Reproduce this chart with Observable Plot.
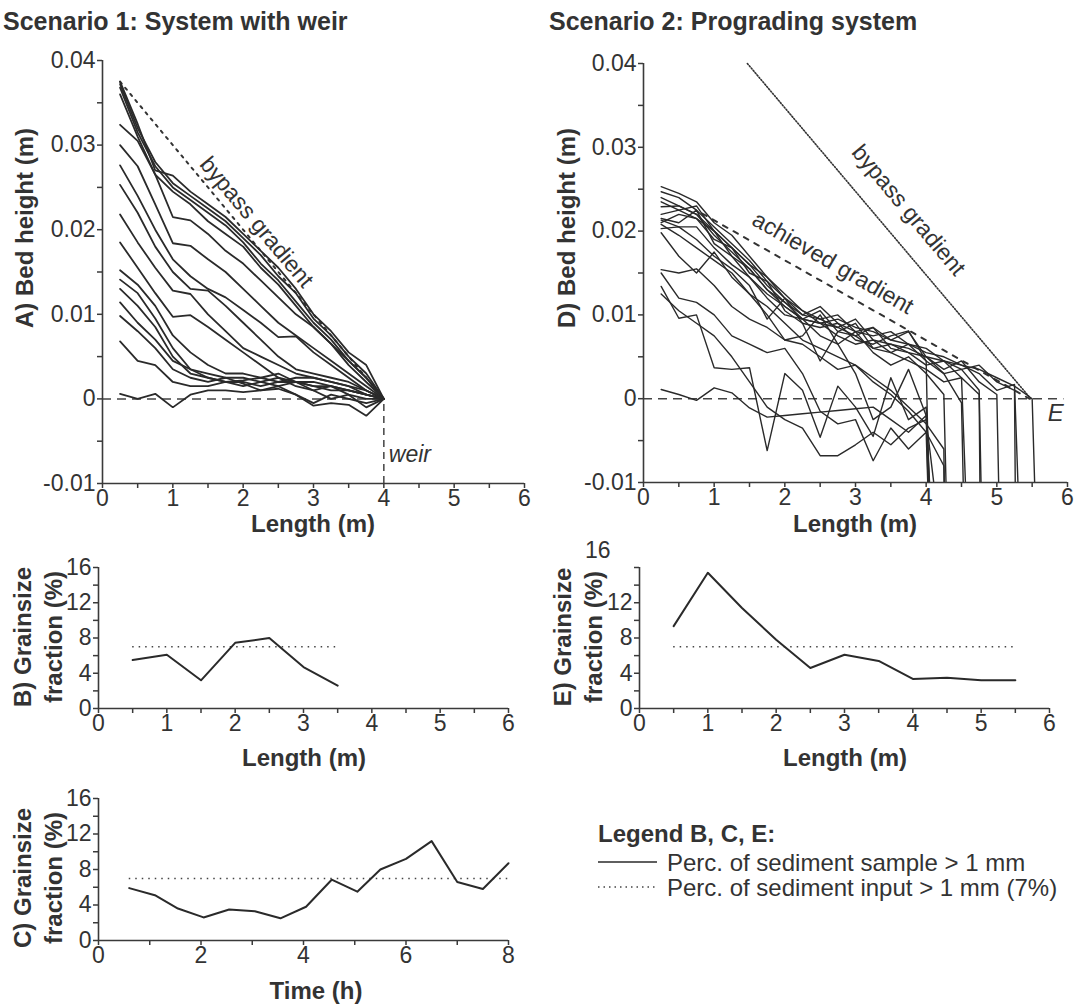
<!DOCTYPE html>
<html><head><meta charset="utf-8">
<script src="https://cdn.jsdelivr.net/npm/d3@7"></script>
<script src="https://cdn.jsdelivr.net/npm/@observablehq/plot@0.6"></script>
<style>
html,body{margin:0;padding:0;background:#fff;}
#root{position:relative;width:1080px;height:1006px;overflow:hidden;font-family:"Liberation Sans",Arial,sans-serif;color:#333;background:#fff;}
.lbl{position:absolute;white-space:nowrap;font-weight:bold;font-size:24px;line-height:1;}
.rot{transform:translate(-50%,-50%) rotate(-90deg);text-align:center;}
.two{line-height:31px;}
.hc{transform:translate(-50%,-50%);}
.vc{transform:translate(0,-50%);}
.reg{font-weight:normal;line-height:20px;}
</style></head><body><div id="root"></div>
<script>
// ---------------- DATA ----------------
// Panel A: bed profiles, scenario 1 (values in mm, positions in m)
const lengthsA = [0.25,0.5,0.75,1,1.25,1.5,1.75,2,2.25,2.5,2.75,3,3.25,3.5,3.75,4];
const profilesA = [
  [37.5,32.5,27.0,26.4,24.5,23.0,21.5,19.5,17.5,15.5,13.0,10.0,8.0,5.5,4.0,0],
  [37.2,32.0,28.0,25.5,24.0,22.5,21.0,19.0,17.0,14.5,12.5,9.5,7.5,5.0,3.0,0],
  [36.8,31.5,27.5,25.0,23.5,22.0,20.5,18.5,16.0,14.0,11.5,9.0,7.0,4.5,2.5,0],
  [36.0,31.0,26.5,24.5,23.0,21.0,19.5,18.0,15.5,13.5,11.0,8.5,6.5,4.0,2.0,0],
  [32.4,30.5,26.5,21.5,21.1,19.5,17.5,16.0,14.0,12.0,10.0,8.5,6.5,4.5,2.5,0],
  [30.0,27.5,23.0,18.4,18.1,16.5,15.0,13.0,11.0,9.0,7.5,6.0,4.5,3.0,1.5,0],
  [27.6,24.0,20.0,16.5,14.5,13.0,12.0,10.5,9.0,7.3,7.4,5.5,4.0,2.5,1.0,0],
  [25.3,22.0,18.0,15.0,13.0,12.8,11.0,9.0,7.0,5.0,3.5,3.0,2.5,2.0,1.0,0],
  [21.8,18.5,15.5,12.8,12.4,10.0,8.0,6.0,5.0,4.0,3.0,2.5,2.0,1.5,0.5,0],
  [18.5,15.5,12.5,9.7,9.9,8.5,7.0,5.5,4.0,2.5,2.0,1.5,1.5,1.0,0.5,0],
  [15.2,13.5,11.0,7.5,5.5,4.0,3.0,3.0,2.5,2.0,2.5,2.5,2.0,1.5,1.0,0],
  [14.1,12.5,9.5,6.0,3.5,3.0,2.5,2.5,2.0,1.5,2.0,2.0,1.5,1.0,0.5,0],
  [13.0,11.0,8.5,5.0,3.0,2.5,2.0,1.5,2.0,2.5,1.5,1.0,1.5,0.5,0.0,0],
  [11.4,9.0,7.0,4.5,3.5,2.5,2.0,2.0,1.5,2.0,2.0,1.5,1.0,1.0,0.5,0],
  [9.8,8.0,6.0,3.5,2.5,2.0,2.5,1.8,1.0,1.5,0.5,-0.5,0.5,0.0,-0.5,0],
  [6.8,4.5,4.0,2.0,1.5,1.5,2.0,2.2,2.5,3.0,2.0,1.0,0.0,0.5,-1.0,0],
  [0.6,0.0,0.6,-1.0,0.5,1.0,1.0,0.8,1.0,1.2,0.5,-0.8,-0.5,-0.7,-2.0,0]
];
const bypassA = [[0.25, 37.5], [4, 0]];   // [length m, height mm]
const weirLength = 4;

// Panel D: bed profiles, scenario 2 (mm)
const lengthsD = [0.25,0.5,0.75,1,1.25,1.5,1.75,2,2.25,2.5,2.75,3,3.25,3.5,3.75,4,4.25,4.5,4.75,5,5.25,5.5];
const profilesD = [
  [25.3,24.5,23.5,21.0,19.5,17.0,14.5,12.5,10.5,9.0,9.5,8.5,8.0,7.0,6.5,5.5,5.0,4.0,3.5,2.5,1.5,0.0],
  [24.7,24.0,22.5,20.5,18.5,16.5,14.0,12.0,10.0,11.0,9.0,8.0,8.5,7.0,8.0,5.0,4.5,4.0,3.0,1.0,1.7],
  [24.0,23.0,22.0,20.0,18.0,16.0,14.5,12.0,10.5,9.5,10.0,8.0,7.5,8.0,6.5,6.0,4.5,3.5,4.0,2.0,1.0],
  [23.5,22.5,23.0,20.0,18.0,16.0,13.5,11.5,9.5,9.0,8.5,9.5,7.0,6.5,6.0,5.0,3.5,4.5,2.0,0.5],
  [22.9,23.0,22.0,19.5,17.5,15.5,13.0,11.0,9.5,10.5,8.0,7.5,8.5,6.0,5.5,5.0,3.0,3.5,1.0],
  [21.0,22.0,21.5,20.0,17.0,15.5,13.0,11.5,10.0,9.5,8.5,7.5,6.0,6.5,5.5,4.0,4.5,2.5,0.5],
  [22.0,22.5,21.5,19.0,18.0,15.0,14.0,10.5,9.0,8.5,9.0,7.0,6.5,7.5,8.1,4.5,3.0,-0.5],
  [21.5,21.0,22.5,18.5,17.0,14.5,12.5,11.0,9.5,9.0,7.5,6.5,7.0,5.5,4.5,3.5,2.0,2.5],
  [21.3,20.5,20.5,18.0,16.0,14.5,12.0,10.0,9.5,7.5,6.5,8.0,5.5,4.0,5.0,3.0,0.5],
  [20.8,19.5,18.0,16.5,15.0,12.5,11.0,9.0,7.0,6.0,5.0,4.0,2.5,1.0,-1.0,-3.0,-6.0],
  [20.3,20.5,19.0,17.0,15.5,13.5,9.5,12.0,9.0,4.5,8.0,9.0,6.0,5.5,6.5,4.5],
  [19.8,17.0,15.0,17.5,14.5,12.5,10.0,7.0,7.5,10.0,6.5,3.0,-2.5,-1.0,3.5,-2.0],
  [15.4,15.0,15.5,13.5,11.0,9.5,8.5,7.0,6.5,5.0,3.5,4.0,2.0,0.5,-1.5,-4.0,-8.0],
  [15.0,12.0,11.5,10.0,7.5,6.5,5.5,6.0,3.0,-1.5,-3.0,-2.5,-7.4,-3.5,-6.0,-4.0],
  [13.4,9.6,10.0,3.7,3.5,3.7,-6.2,3.0,1.0,-4.6,1.5,-1.0,-4.5,2.5,-2.5,-1.0],
  [12.5,10.5,9.0,7.5,5.0,2.0,-1.0,-2.5,-3.5,-6.8,-6.8,-5.5,-4.0,-5.5,-3.5,-2.5],
  [1.1,0.5,-0.2,1.3,0.7,-1.1,-2.2,-2.0,-1.8,-1.6,-1.4,-1.2,-1.0,-2.5,-4.0,-2.0]
];
const frontD = [5.57,5.34,5.27,5.05,4.8,4.77,4.55,4.6,4.31,4.27,4.06,4.1,4.28,4.06,4.1,4.25,4.06];
const frontDropD = -20; // mm, foreset toe below the plotted range
const bypassD = [[1.47, 40], [5.48, 0]];
const achievedD = [[0.83, 22.1], [5.46, 0]];

// Panels B, C, E: grain size fraction > 1 mm (%)
const lengthsB = [0.5,1,1.5,2,2.5,3,3.5];
const fractionB = [5.5,6.1,3.2,7.45,8.0,4.7,2.6];
const lengthsE = [0.5,1,1.5,2,2.5,3,3.5,4,4.5,5,5.5];
const fractionE = [9.35,15.4,11.4,7.8,4.6,6.1,5.4,3.35,3.5,3.2,3.2];
const timesC = [0.6,1.1,1.55,2.05,2.55,3.05,3.55,4.05,4.55,5.05,5.5,6.0,6.5,7.0,7.5,8.0];
const fractionC = [5.9,5.1,3.6,2.6,3.5,3.3,2.5,3.8,6.85,5.5,8.0,9.2,11.2,6.6,5.8,8.7];
const inputFraction = 7;

// Ticks
const bedTicks = [-0.01,0,0.01,0.02,0.03,0.04];
const bedMinor = [-0.005,0.005,0.015,0.025,0.035];
const lengthTicks = [0,1,2,3,4,5,6];
const lengthMinor = [0.5,1.5,2.5,3.5,4.5,5.5];
const fracTicks = [0,4,8,12,16];
const fracMinor = [2,6,10,14];
const fracTicksE = [0,4,8,12];
const fracMinorE = [2,6,10,14,16];
const timeTicks = [0,2,4,6,8];
const timeMinor = [1,3,5,7];

// ---------------- BUILD ----------------
const root = document.getElementById("root");
const INK = "#2a2a2a";
const AX = "#3a3a3a";
const FONT = '"Liberation Sans", Arial, Helvetica, sans-serif';
const TICKFS = 23;

const rowsA = profilesA.flatMap((p, k) => p.map((v, i) => ({id: k, x: lengthsA[i], y: v / 1000})));
const rowsD = profilesD.flatMap((p, k) => [
  ...p.map((v, i) => ({id: k, x: lengthsD[i], y: v / 1000})),
  {id: k, x: frontD[k], y: frontDropD / 1000}
]);
const gradRows = (pts) => pts.map(([x, h]) => ({x, y: h / 1000}));

function axes(xDom, yDom, xMaj, xMin, yMaj, yMin) {
  const fmt = d => String(d);
  return [
    Plot.axisX({ticks: xMin, tickSize: 5, tickFormat: () => "", label: null, stroke: AX, strokeWidth: 1.5}),
    Plot.axisX({ticks: xMaj, tickSize: 5, tickPadding: 1, tickFormat: fmt, label: null, fontSize: TICKFS, stroke: AX, strokeWidth: 1.5, fill: "#333"}),
    Plot.axisY({ticks: yMin, tickSize: 5, tickFormat: () => "", label: null, stroke: AX, strokeWidth: 1.5}),
    Plot.axisY({ticks: yMaj, tickSize: 5, tickPadding: 2, tickFormat: fmt, label: null, fontSize: TICKFS, stroke: AX, strokeWidth: 1.5, fill: "#333"}),
    Plot.ruleX([xDom[0]], {y1: yDom[0], y2: yDom[1], stroke: AX, strokeWidth: 1.6}),
    Plot.ruleY([yDom[0]], {x1: xDom[0], x2: xDom[1], stroke: AX, strokeWidth: 1.6})
  ];
}

function addPanel({left, top, width, height, xPx, yPx, xDomain, yDomain, marks}) {
  const chart = Plot.plot({
    width, height,
    marginLeft: xPx[0] - left, marginRight: left + width - xPx[1],
    marginTop: yPx[1] - top, marginBottom: top + height - yPx[0],
    x: {domain: xDomain, label: null},
    y: {domain: yDomain, label: null},
    style: {fontFamily: FONT, fontSize: TICKFS + "px", color: "#333", background: "none", overflow: "visible"},
    marks
  });
  chart.style.position = "absolute";
  chart.style.left = left + "px";
  chart.style.top = top + "px";
  root.appendChild(chart);
}

function label(text, cls, x, y, extra) {
  const d = document.createElement("div");
  d.className = "lbl " + cls;
  d.style.left = x + "px";
  d.style.top = y + "px";
  if (extra) Object.assign(d.style, extra);
  d.innerHTML = text;
  root.appendChild(d);
  return d;
}

// Panel A
const xDomLen = [0, 6], yDomBed = [-0.01, 0.04];
addPanel({
  left: 0, top: 40, width: 540, height: 490,
  xPx: [102, 524], yPx: [483, 60],
  xDomain: xDomLen, yDomain: yDomBed,
  marks: [
    Plot.ruleY([0], {x1: 0, x2: weirLength, stroke: "#444", strokeWidth: 1.5, strokeDasharray: "9,6"}),
    Plot.ruleX([weirLength], {y1: yDomBed[0], y2: 0, stroke: "#444", strokeWidth: 1.5, strokeDasharray: "7,5"}),
    Plot.line(gradRows(bypassA), {x: "x", y: "y", stroke: "#333", strokeWidth: 2, strokeDasharray: "2.5,5.5"}),
    Plot.line(rowsA, {x: "x", y: "y", z: "id", stroke: INK, strokeWidth: 1.8, strokeLinejoin: "miter"}),
    Plot.text(["bypass gradient"], {x: 2.19, y: 0.0209, text: d => d, rotate: 50, fontSize: 23, fill: "#333"}),
    Plot.text(["weir"], {x: weirLength, y: -0.0066, text: d => d, dx: 5, textAnchor: "start", fontSize: 23, fontStyle: "italic", fill: "#333"}),
    ...axes(xDomLen, yDomBed, lengthTicks, lengthMinor, bedTicks, bedMinor)
  ]
});

// Panel D
addPanel({
  left: 540, top: 40, width: 540, height: 490,
  xPx: [643, 1067], yPx: [482, 63],
  xDomain: xDomLen, yDomain: yDomBed,
  marks: [
    Plot.ruleY([0], {x1: 0, x2: 5.95, stroke: "#444", strokeWidth: 1.5, strokeDasharray: "9,6"}),
    Plot.line(gradRows(bypassD), {x: "x", y: "y", stroke: "#333", strokeWidth: 1.6, strokeDasharray: "1.2,1.8"}),
    Plot.line(gradRows(achievedD), {x: "x", y: "y", stroke: "#333", strokeWidth: 2, strokeDasharray: "5,7"}),
    Plot.line(rowsD, {x: "x", y: "y", z: "id", stroke: INK, strokeWidth: 1.4, clip: true}),
    Plot.text(["bypass gradient"], {x: 3.75, y: 0.0225, text: d => d, rotate: 50, fontSize: 23, fill: "#333"}),
    Plot.text(["achieved gradient"], {x: 2.68, y: 0.0162, text: d => d, rotate: 30, fontSize: 23, fill: "#333"}),
    Plot.text(["E"], {x: 5.72, y: -0.0017, text: d => d, textAnchor: "start", fontSize: 24, fontStyle: "italic", fill: "#333"}),
    ...axes(xDomLen, yDomBed, lengthTicks, lengthMinor, bedTicks, bedMinor)
  ]
});

// Panel B
const yDomFrac = [0, 16];
addPanel({
  left: 0, top: 550, width: 540, height: 190,
  xPx: [98, 508], yPx: [708, 567],
  xDomain: xDomLen, yDomain: yDomFrac,
  marks: [
    Plot.ruleY([inputFraction], {x1: lengthsB[0], x2: lengthsB[lengthsB.length - 1], stroke: "#444", strokeWidth: 1.5, strokeDasharray: "1.5,5"}),
    Plot.line(lengthsB.map((x, i) => ({x, y: fractionB[i]})), {x: "x", y: "y", stroke: INK, strokeWidth: 2}),
    ...axes(xDomLen, yDomFrac, lengthTicks, lengthMinor, fracTicks, fracMinor)
  ]
});

// Panel E
addPanel({
  left: 540, top: 530, width: 540, height: 210,
  xPx: [639, 1049], yPx: [708, 567],
  xDomain: xDomLen, yDomain: yDomFrac,
  marks: [
    Plot.ruleY([inputFraction], {x1: lengthsE[0], x2: lengthsE[lengthsE.length - 1], stroke: "#444", strokeWidth: 1.5, strokeDasharray: "1.5,5"}),
    Plot.line(lengthsE.map((x, i) => ({x, y: fractionE[i]})), {x: "x", y: "y", stroke: INK, strokeWidth: 2}),
    ...axes(xDomLen, yDomFrac, lengthTicks, lengthMinor, fracTicksE, fracMinorE),
    Plot.text([yDomFrac[1]], {x: 0, y: d => d, text: d => String(d), dx: -29, dy: -17, textAnchor: "end", fontSize: TICKFS, fill: "#333"})
  ]
});

// Panel C
const xDomTime = [0, 8];
addPanel({
  left: 0, top: 780, width: 540, height: 200,
  xPx: [98, 508], yPx: [940, 798],
  xDomain: xDomTime, yDomain: yDomFrac,
  marks: [
    Plot.ruleY([inputFraction], {x1: timesC[0], x2: timesC[timesC.length - 1], stroke: "#444", strokeWidth: 1.5, strokeDasharray: "1.5,5"}),
    Plot.line(timesC.map((x, i) => ({x, y: fractionC[i]})), {x: "x", y: "y", stroke: INK, strokeWidth: 2}),
    ...axes(xDomTime, yDomFrac, timeTicks, timeMinor, fracTicks, fracMinor)
  ]
});

// Titles and axis labels
label("Scenario 1: System with weir", "vc", 3, 21, {fontSize: "25px"});
label("Scenario 2: Prograding system", "vc", 549, 21, {fontSize: "25px"});
label("A) Bed height (m)", "rot", 25, 228);
label("D) Bed height (m)", "rot", 567, 228);
label("Length (m)", "hc", 313, 524);
label("Length (m)", "hc", 855, 524);
label("B) Grainsize<br>fraction (%)", "rot two", 38, 637);
label("Length (m)", "hc", 304, 758);
label("E) Grainsize<br>fraction (%)", "rot two", 578, 637);
label("Length (m)", "hc", 845, 758);
label("C) Grainsize<br>fraction (%)", "rot two", 38, 878);
label("Time (h)", "hc", 316, 991);

// Legend
label("Legend B, C, E:", "vc", 598, 834);
label("Perc. of sediment sample &gt; 1 mm", "vc reg", 667, 863);
label("Perc. of sediment input &gt; 1 mm (7%)", "vc reg", 667, 888);
const ns = "http://www.w3.org/2000/svg";
const lg = document.createElementNS(ns, "svg");
lg.setAttribute("width", 80); lg.setAttribute("height", 60);
lg.style.position = "absolute"; lg.style.left = "590px"; lg.style.top = "845px";
const legendItems = [{dash: null, y: 17}, {dash: "1.5,4", y: 42}];
legendItems.forEach(it => {
  const l = document.createElementNS(ns, "line");
  l.setAttribute("x1", 8); l.setAttribute("x2", 67);
  l.setAttribute("y1", it.y); l.setAttribute("y2", it.y);
  l.setAttribute("stroke", it.dash ? "#444" : INK);
  l.setAttribute("stroke-width", 1.6);
  if (it.dash) l.setAttribute("stroke-dasharray", it.dash);
  lg.appendChild(l);
});
root.appendChild(lg);
</script></body></html>
